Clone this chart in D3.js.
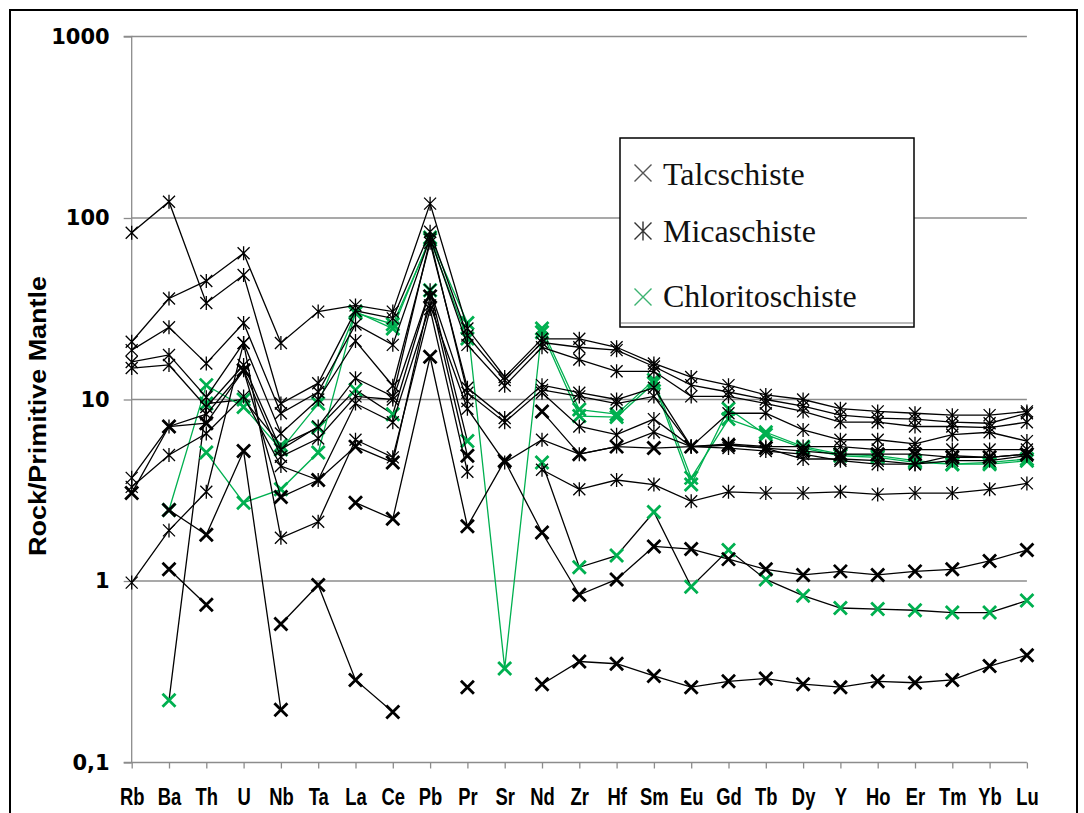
<!DOCTYPE html>
<html><head><meta charset="utf-8">
<script src="https://cdn.jsdelivr.net/npm/d3@7"></script>
<style>body{margin:0;background:#fff}svg{display:block}</style>
</head><body>
<svg id="chart" width="1084" height="813"></svg>
<script>
// ---------- DATA ----------
const elements = ["Rb","Ba","Th","U","Nb","Ta","La","Ce","Pb","Pr","Sr","Nd","Zr","Hf","Sm","Eu","Gd","Tb","Dy","Y","Ho","Er","Tm","Yb","Lu"];
const yTickValues = [0.1, 1, 10, 100, 1000];
const yTickLabels = ["0,1", "1", "10", "100", "1000"];
const legendLabels = ["Talcschiste", "Micaschiste", "Chloritoschiste"];
const yAxisTitle = "Rock/Primitive Mantle";

// Talcschiste (×)
const talc1 = [null,1.16,0.74,null,0.58,0.95,0.285,0.19,null,0.26,null,0.27,0.36,0.35,0.30,0.26,0.28,0.29,0.27,0.26,0.28,0.275,0.285,0.34,0.39];
const talc2 = [null,2.46,1.8,5.2,0.195,null,2.7,2.2,17.2,2.0,4.6,1.85,0.84,1.02,1.55,1.5,1.32,1.16,1.08,1.13,1.08,1.13,1.16,1.29,1.48];
const talc3 = [3.05,7.1,7.4,14.5,2.9,3.6,5.5,4.5,37,4.9,null,8.6,5.0,5.5,5.4,5.5,5.6,5.4,5.2,5.0,5.0,5.0,4.8,4.8,5.0];
// Micaschiste (*)
const mica1 = [20.8,36,45,64,20.5,30.5,33,30.5,120,24.6,13.3,21.6,21.6,19.4,15.8,13.3,12.0,10.6,10.0,8.9,8.6,8.4,8.2,8.2,8.6];
const mica2 = [83,123,34,48.5,9.5,12.3,30.8,28,84,22.5,12.8,20.6,19.4,18.7,15.2,12.0,11.0,10.0,9.2,8.2,7.9,7.8,7.5,7.4,8.4];
const mica3 = [18.7,25,15.8,26.4,8.4,11,25.9,20,78,20,11.9,19.4,16.6,14.3,14.3,10.4,10.4,9.5,8.6,7.5,7.5,7.1,7.1,7.0,7.5];
const mica4 = [16.1,17.6,10.3,20.5,6.5,10,21,11.9,73,11.6,7.9,12,10.9,10.0,11.6,5.5,8.4,8.4,6.8,6.0,6.0,5.7,6.4,6.6,5.9];
const mica5 = [14.9,15.5,9.1,15.5,5.3,7.1,13.1,10.4,76,10.9,7.5,11.3,10.4,9.5,10.4,5.5,5.7,5.5,5.5,5.5,5.3,5.3,5.3,5.3,5.3];
const mica6 = [3.7,7.1,8.3,14.5,4.84,6.1,10.4,10,40,9.8,null,10.9,7.1,6.4,7.8,5.5,5.4,5.2,5.0,4.6,4.4,4.4,4.9,4.8,5.0];
const mica7 = [3.3,4.95,6.5,10.4,4.3,3.6,9.5,7.5,33,8.9,4.5,6.0,5.0,5.5,6.6,5.5,5.6,5.4,4.7,4.7,4.6,4.4,4.6,4.6,4.9];
const mica8 = [0.98,1.9,3.1,20.5,1.73,2.12,6.0,4.8,31.5,4.0,null,4.1,3.2,3.6,3.4,2.75,3.1,3.05,3.05,3.1,3.0,3.05,3.05,3.2,3.45];
// Chloritoschiste (green ×)
const chlor1 = [null,0.22,9.5,10.0,5.6,7.0,11.3,8.3,40,5.9,null,4.5,1.19,1.38,2.4,0.93,1.48,1.02,0.83,0.71,0.70,0.69,0.67,0.67,0.78];
const chlor2 = [null,null,5.1,2.7,3.2,5.1,30.5,24.6,78,26.4,0.33,24.6,8.8,8.3,12.8,3.7,7.8,6.6,5.5,5.0,4.9,4.6,4.4,4.4,4.6];
const chlor3 = [null,2.46,12.0,9.1,5.3,9.5,30,26,76,21.7,null,23.5,8.1,8.0,12.3,3.4,8.9,6.4,5.4,4.9,4.8,4.5,4.4,4.5,4.7];

// ---------- STYLE ----------
const GREEN = "#00b050";
// drawing order: green series first so black ones lie on top
const seriesList = [
  {v: chlor1, m: "gx", line: "#000"}, {v: chlor2, m: "gx", line: GREEN}, {v: chlor3, m: "gx", line: GREEN},
  {v: mica1, m: "star"}, {v: mica2, m: "star"}, {v: mica3, m: "star"}, {v: mica4, m: "star"},
  {v: mica5, m: "star"}, {v: mica6, m: "star"}, {v: mica7, m: "star"}, {v: mica8, m: "star"},
  {v: talc1, m: "x"}, {v: talc2, m: "x"}, {v: talc3, m: "x"}
];

const svg = d3.select("#chart");
const L = 131.7, R = 1026.9, T = 36.5, B = 762.5;
const x = d3.scalePoint().domain(elements).range([L, R]);
const y = d3.scaleLog().domain([0.1, 1000]).range([B, T]);
const narrow = "Liberation Sans, Arial, sans-serif";

// outer frame
svg.append("rect").attr("x", 10).attr("y", 10).attr("width", 1067).attr("height", 830)
  .attr("fill", "none").attr("stroke", "#000").attr("stroke-width", 2);

// gridlines
svg.append("g").selectAll("line").data(yTickValues.slice(1)).join("line")
  .attr("x1", L).attr("x2", R).attr("y1", d => y(d)).attr("y2", d => y(d))
  .attr("stroke", "#8c8c8c").attr("stroke-width", 1.3);

// y axis
const yAxis = d3.axisLeft(y).tickValues(yTickValues).tickSize(8)
  .tickFormat((d, i) => yTickLabels[i]);
const gy = svg.append("g").attr("transform", `translate(${L},0)`).call(yAxis);
gy.select(".domain").attr("stroke", "#8c8c8c").attr("stroke-width", 1.3).attr("d", `M-8,${T}H0V${B}H-8`);
gy.selectAll(".tick line").attr("stroke", "#8c8c8c").attr("stroke-width", 1.3);
gy.selectAll(".tick text").attr("x", -22).attr("font-family", "DejaVu Sans, Verdana, sans-serif")
  .attr("font-weight", "bold").attr("font-size", 21).attr("fill", "#000");

// x axis
const xAxis = d3.axisBottom(x).tickSize(6).tickPadding(20);
const gx = svg.append("g").attr("transform", `translate(0,${B})`).call(xAxis);
gx.select(".domain").attr("stroke", "#8c8c8c").attr("stroke-width", 1.3).attr("d", `M${L},0H${R}`);
gx.selectAll(".tick line").attr("stroke", "#8c8c8c").attr("stroke-width", 1.3);
gx.selectAll(".tick text").attr("font-family", narrow)
  .attr("font-weight", "bold").attr("font-size", 23).attr("fill", "#000")
  .attr("transform", "scale(0.8,1)");

// y axis title
svg.append("text").attr("transform", "translate(46,416) rotate(-90)")
  .attr("text-anchor", "middle").attr("font-family", narrow)
  .attr("font-weight", "bold").attr("font-size", 23)
  .attr("textLength", 280).attr("lengthAdjust", "spacingAndGlyphs").text(yAxisTitle);

// series lines + markers
const line = d3.line().defined(d => d.v != null).x(d => x(d.e)).y(d => y(d.v));
function markerPath(kind, s) {
  let p = `M${-s},${-s}L${s},${s}M${-s},${s}L${s},${-s}`;
  if (kind === "star") p += `M0,${-s - 1}L0,${s + 1}`;
  return p;
}
seriesList.forEach(s => {
  const pts = elements.map((e, i) => ({e, v: s.v[i]}));
  const g = svg.append("g");
  g.append("path").datum(pts).attr("d", line).attr("fill", "none")
    .attr("stroke", s.m === "gx" ? s.line : "#000").attr("stroke-width", 1.3);
  g.selectAll("path.mk").data(pts.filter(d => d.v != null)).join("path").attr("class", "mk")
    .attr("transform", d => `translate(${x(d.e)},${y(d.v)})`)
    .attr("d", markerPath(s.m, s.m === "star" ? 6 : 6.5))
    .attr("fill", "none")
    .attr("stroke", s.m === "gx" ? GREEN : "#000")
    .attr("stroke-width", s.m === "star" ? 1.3 : 2.8);
});

// legend
const lg = svg.append("g");
lg.append("rect").attr("x", 620).attr("y", 138).attr("width", 294).attr("height", 189)
  .attr("fill", "#fff").attr("stroke", "#000").attr("stroke-width", 1.5);
lg.append("line").attr("x1", 621).attr("x2", 913).attr("y1", 323).attr("y2", 323)
  .attr("stroke", "#777").attr("stroke-width", 1.2);
const legendRows = [
  {label: legendLabels[0], kind: "x", color: "#555", cy: 173, ty: 185},
  {label: legendLabels[1], kind: "star", color: "#333", cy: 231, ty: 242},
  {label: legendLabels[2], kind: "x", color: "#3cb371", cy: 297, ty: 307}
];
legendRows.forEach(r => {
  lg.append("path").attr("transform", `translate(643,${r.cy})`).attr("d", markerPath(r.kind, 8.5))
    .attr("fill", "none").attr("stroke", r.color).attr("stroke-width", 1.4);
  lg.append("text").attr("x", 663).attr("y", r.ty).attr("font-family", "Liberation Serif, Times New Roman, serif")
    .attr("font-size", 32).attr("fill", "#111").text(r.label);
});
</script>
</body></html>
